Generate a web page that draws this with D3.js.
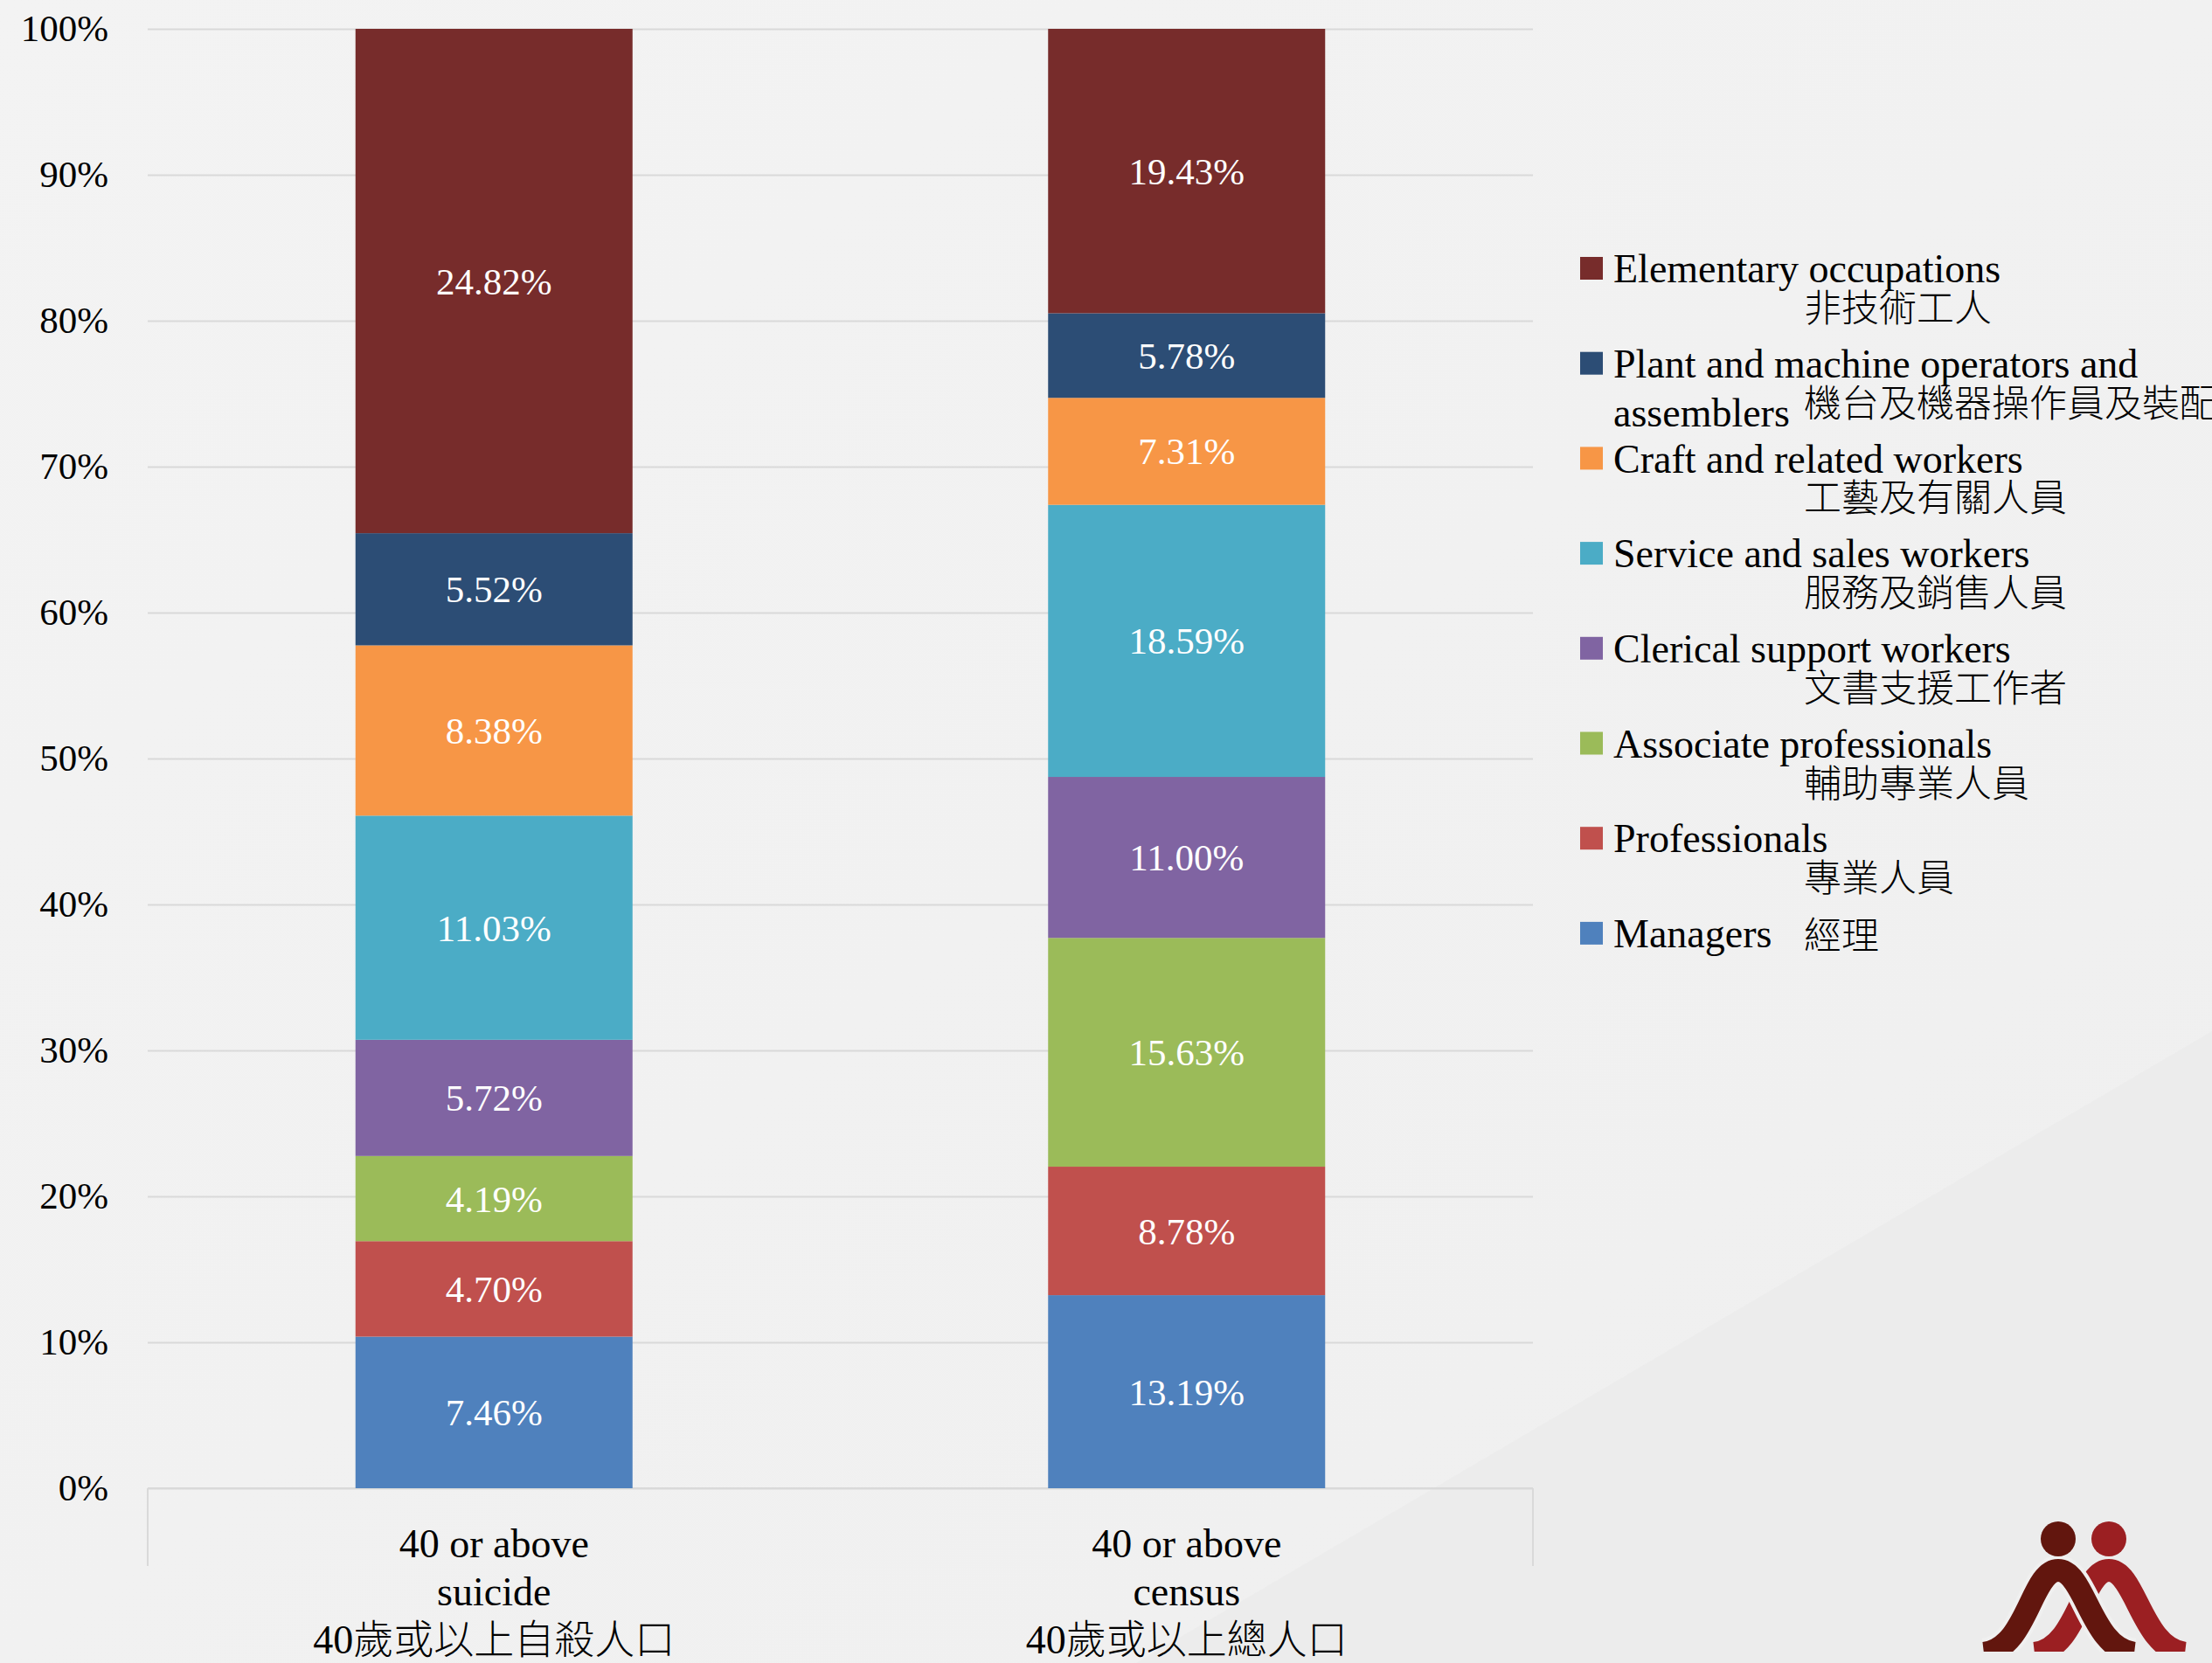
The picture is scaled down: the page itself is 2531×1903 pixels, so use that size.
<!DOCTYPE html>
<html>
<head>
<meta charset="utf-8">
<script src="https://cdn.jsdelivr.net/npm/d3@7"></script>
<style>
  body { margin: 0; background: #f2f2f2; }
  svg { display: block; }
  text { font-family: "Liberation Serif", "Noto Sans CJK TC", serif; font-weight: 300; }
</style>
</head>
<body>
<svg class="chart"></svg>
<script>
var width = 2531;
var height = 1903;

// categories (bottom to top of each stacked bar)
var occupations = ["Managers", "Professionals", "Associate professionals", "Clerical support workers",
	"Service and sales workers", "Craft and related workers", "Plant and machine operators and assemblers",
	"Elementary occupations"];
var occupationsZh = ["經理", "專業人員", "輔助專業人員", "文書支援工作者", "服務及銷售人員", "工藝及有關人員",
	"機台及機器操作員及裝配員", "非技術工人"];
var colors = ["#4f81bd", "#c0504d", "#9bbb59", "#8064a2", "#4bacc6", "#f79646", "#2c4d75", "#772c2b"];

var groups = ["suicide", "census"];
var groupLabels = [["40 or above", "suicide", "40歲或以上自殺人口"], ["40 or above", "census", "40歲或以上總人口"]];

var suicideValues = [7.46, 4.70, 4.19, 5.72, 11.03, 8.38, 5.52, 24.82];
var censusValues = [13.19, 8.78, 15.63, 11.00, 18.59, 7.31, 5.78, 19.43];

var yTicks = [0, 0.1, 0.2, 0.3, 0.4, 0.5, 0.6, 0.7, 0.8, 0.9, 1];

var rows = groups.map(function(g, i) {
	var vals = i === 0 ? suicideValues : censusValues;
	var row = { group: g };
	occupations.forEach(function(o, j) { row[o] = vals[j]; });
	return row;
});

var svg = d3.select(".chart")
	.attr("width", width)
	.attr("height", height);

// background
var defs = svg.append("defs");
var grad = defs.append("linearGradient").attr("id", "bg").attr("x1", 0).attr("y1", 0).attr("x2", 1).attr("y2", 1);
grad.append("stop").attr("offset", "0%").attr("stop-color", "#f3f3f3");
grad.append("stop").attr("offset", "100%").attr("stop-color", "#efefef");
svg.append("rect").attr("width", width).attr("height", height).attr("fill", "url(#bg)");
svg.append("polygon")
	.attr("points", "1300,1903 2531,1180 2531,1903")
	.attr("fill", "#e6e6e6").attr("opacity", 0.3);

var plotTop = 33, plotBottom = 1703, plotLeft = 169, plotRight = 1754;

var x = d3.scaleBand()
	.domain(groups)
	.range([plotLeft, plotRight])
	.paddingInner(0.6)
	.paddingOuter(0.3);

var y = d3.scaleLinear()
	.domain([0, 1])
	.range([plotBottom, plotTop]);

// gridlines + y labels
var yAxis = svg.append("g")
	.attr("transform", "translate(" + plotLeft + ",0)")
	.call(d3.axisLeft(y)
		.tickValues(yTicks)
		.tickSize(-(plotRight - plotLeft))
		.tickPadding(45)
		.tickFormat(d3.format(".0%")));
yAxis.select(".domain").remove();
yAxis.selectAll(".tick line").attr("stroke", "#d9d9d9").attr("stroke-width", 2);
yAxis.selectAll(".tick text")
	.attr("fill", "#000")
	.style("font-size", "43px");

// bottom axis line and end ticks
svg.append("line")
	.attr("x1", plotLeft).attr("x2", plotRight)
	.attr("y1", y(0)).attr("y2", y(0))
	.attr("stroke", "#d9d9d9").attr("stroke-width", 2);
svg.selectAll(".endtick")
	.data([plotLeft, plotRight])
	.enter()
	.append("line")
		.attr("x1", function(d) { return d; })
		.attr("x2", function(d) { return d; })
		.attr("y1", y(0))
		.attr("y2", y(0) + 89)
		.attr("stroke", "#d9d9d9")
		.attr("stroke-width", 2);

// stacked bars, normalised to 100%
var stack = d3.stack()
	.keys(occupations)
	.offset(d3.stackOffsetExpand);
var series = stack(rows);

var layer = svg.append("g")
	.selectAll("g")
	.data(series)
	.enter()
	.append("g")
		.attr("fill", function(d, i) { return colors[i]; });

layer.selectAll("rect")
	.data(function(d) { return d; })
	.enter()
	.append("rect")
		.attr("x", function(d) { return x(d.data.group); })
		.attr("y", function(d) { return y(d[1]); })
		.attr("width", x.bandwidth())
		.attr("height", function(d) { return y(d[0]) - y(d[1]); });

layer.selectAll("text")
	.data(function(d) { return d.map(function(p) { p.key = d.key; return p; }); })
	.enter()
	.append("text")
		.attr("x", function(d) { return x(d.data.group) + x.bandwidth() / 2; })
		.attr("y", function(d) { return (y(d[0]) + y(d[1])) / 2; })
		.attr("dy", "0.35em")
		.attr("text-anchor", "middle")
		.attr("fill", "#fff")
		.style("font-size", "43px")
		.text(function(d) { return d.data[d.key].toFixed(2) + "%"; });

// category labels
var cat = svg.append("g")
	.selectAll("text")
	.data(groups)
	.enter()
	.append("text")
		.attr("text-anchor", "middle")
		.style("font-size", "46px")
		.attr("fill", "#000");
cat.selectAll("tspan")
	.data(function(d, i) { return groupLabels[i]; })
	.enter()
	.append("tspan")
		.attr("x", function() { return x(d3.select(this.parentNode).datum()) + x.bandwidth() / 2; })
		.attr("y", function(d, i) { return y(0) + 63 + i * 55; })
		.attr("dy", "0.35em")
		.text(function(d) { return d; });

// legend (top entry first)
var legendOrder = d3.range(occupations.length).reverse();
var legend = svg.append("g")
	.selectAll("g")
	.data(legendOrder)
	.enter()
	.append("g")
		.attr("transform", function(d, i) { return "translate(1808," + (307 + i * 108.7) + ")"; });

legend.append("rect")
	.attr("x", 0).attr("y", -13)
	.attr("width", 26).attr("height", 26)
	.attr("fill", function(d) { return colors[d]; });

legend.each(function(d) {
	var g = d3.select(this);
	var name = occupations[d];
	var zh = occupationsZh[d];
	if (name === "Plant and machine operators and assemblers") {
		g.append("text").attr("x", 38).attr("dy", "0.35em").style("font-size", "46px")
			.text("Plant and machine operators and");
		g.append("text").attr("x", 38).attr("y", 56).attr("dy", "0.35em").style("font-size", "46px")
			.text("assemblers");
		g.append("text").attr("x", 256).attr("y", 46).attr("dy", "0.35em").style("font-size", "43px")
			.style("font-family", "'Noto Sans CJK TC', sans-serif")
			.text(zh);
	} else if (name === "Managers") {
		g.append("text").attr("x", 38).attr("dy", "0.35em").style("font-size", "46px").text(name);
		g.append("text").attr("x", 256).attr("y", 3).attr("dy", "0.35em").style("font-size", "43px")
			.style("font-family", "'Noto Sans CJK TC', sans-serif")
			.text(zh);
	} else {
		g.append("text").attr("x", 38).attr("dy", "0.35em").style("font-size", "46px").text(name);
		g.append("text").attr("x", 256).attr("y", 46).attr("dy", "0.35em").style("font-size", "43px")
			.style("font-family", "'Noto Sans CJK TC', sans-serif")
			.text(zh);
	}
});

// logo
var logo = svg.append("g").attr("transform", "translate(2200,1700)");
defs.append("clipPath").attr("id", "logoclip")
	.append("rect").attr("x", 0).attr("y", 0).attr("width", 331).attr("height", 190);
var lg = logo.append("g").attr("clip-path", "url(#logoclip)");
lg.append("path")
	.attr("d", "M 128 192 C 178 186, 182 97, 213 97 C 244 97, 250 186, 300 192")
	.attr("fill", "none").attr("stroke", "#9b1f22").attr("stroke-width", 26);
lg.append("path")
	.attr("d", "M 70 192 C 120 186, 124 97, 155 97 C 186 97, 192 186, 242 192")
	.attr("fill", "none").attr("stroke", "#f0f0f0").attr("stroke-width", 34);
lg.append("path")
	.attr("d", "M 70 192 C 120 186, 124 97, 155 97 C 186 97, 192 186, 242 192")
	.attr("fill", "none").attr("stroke", "#62160e").attr("stroke-width", 26);
logo.append("circle").attr("cx", 155).attr("cy", 61).attr("r", 20).attr("fill", "#62160e");
logo.append("circle").attr("cx", 213).attr("cy", 61).attr("r", 20).attr("fill", "#9b1f22");
</script>
</body>
</html>
